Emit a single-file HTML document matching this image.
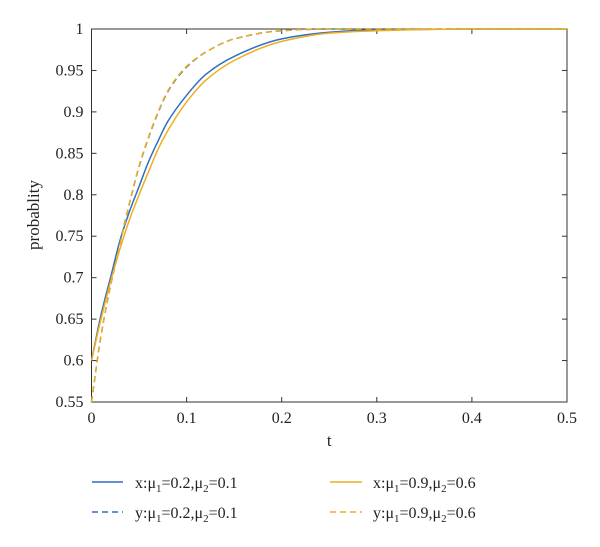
<!DOCTYPE html>
<html><head><meta charset="utf-8"><style>
body{margin:0;background:#fff}
svg text{font-family:"Liberation Serif",serif;fill:#222}
</style></head><body>
<svg width="600" height="542" xmlns="http://www.w3.org/2000/svg">
<g id="axes"></g>
<g id="series"></g>
<g id="legend">
 <g><line x1="92" y1="482" x2="123" y2="482" stroke="#2f6fc4" stroke-width="1.5"/><text x="135" y="488" font-size="16">x:μ<tspan font-size="11" dy="4">1</tspan><tspan dy="-4">=0.2,μ</tspan><tspan font-size="11" dy="4">2</tspan><tspan dy="-4">=0.1</tspan></text></g>
 <g><line x1="92" y1="512" x2="123" y2="512" stroke="#2f6fc4" stroke-width="1.5" stroke-dasharray="6,4"/><text x="135" y="518" font-size="16">y:μ<tspan font-size="11" dy="4">1</tspan><tspan dy="-4">=0.2,μ</tspan><tspan font-size="11" dy="4">2</tspan><tspan dy="-4">=0.1</tspan></text></g>
 <g><line x1="330" y1="482" x2="362" y2="482" stroke="#eeae20" stroke-width="1.5"/><text x="373" y="488" font-size="16">x:μ<tspan font-size="11" dy="4">1</tspan><tspan dy="-4">=0.9,μ</tspan><tspan font-size="11" dy="4">2</tspan><tspan dy="-4">=0.6</tspan></text></g>
 <g><line x1="330" y1="512" x2="362" y2="512" stroke="#eeae20" stroke-width="1.5" stroke-dasharray="6,4"/><text x="373" y="518" font-size="16">y:μ<tspan font-size="11" dy="4">1</tspan><tspan dy="-4">=0.9,μ</tspan><tspan font-size="11" dy="4">2</tspan><tspan dy="-4">=0.6</tspan></text></g>
</g>
</svg>
<script>
const tVals=[0,0.01,0.02,0.03,0.04,0.05,0.06,0.07,0.08,0.1,0.12,0.15,0.2,0.25,0.3,0.4,0.5];
const xBlue=[0.6,0.655,0.70,0.745,0.78,0.81,0.84,0.865,0.888,0.92,0.945,0.967,0.988,0.996,0.999,1,1];
const yBlue=[0.55,0.63,0.69,0.742,0.79,0.834,0.869,0.899,0.924,0.954,0.972,0.988,0.998,1,1,1,1];
const xOrange=[0.6,0.65,0.695,0.735,0.77,0.80,0.828,0.855,0.877,0.912,0.938,0.962,0.985,0.995,0.998,1,1];
const yOrange=[0.55,0.63,0.69,0.74,0.79,0.835,0.87,0.90,0.925,0.955,0.972,0.988,0.998,1,1,1,1];
const xTicks=[0,0.1,0.2,0.3,0.4,0.5];
const yTicks=[0.55,0.6,0.65,0.7,0.75,0.8,0.85,0.9,0.95,1];
const L=91.5,R=567,T=29,B=402;
const sx=v=>L+(v-0)/(0.5)*(R-L);
const sy=v=>B-(v-0.55)/(0.45)*(B-T);
const NS="http://www.w3.org/2000/svg";
function mk(tag,attrs,parent){const e=document.createElementNS(NS,tag);for(const k in attrs)e.setAttribute(k,attrs[k]);parent.appendChild(e);return e;}
const ax=document.getElementById('axes');
const frame=mk('rect',{x:L,y:T,width:R-L,height:B-T,fill:'none',stroke:'#333','stroke-width':1},ax);


xTicks.forEach(v=>{const x=sx(v);
 mk('line',{x1:x,y1:B,x2:x,y2:B-5,stroke:'#333'},ax);mk('line',{x1:x,y1:T,x2:x,y2:T+5,stroke:'#333'},ax);
 const t=mk('text',{x:x,y:B+21,'font-size':16,'text-anchor':'middle'},ax);t.textContent=String(v);
 
 });
yTicks.forEach(v=>{const y=sy(v);
 mk('line',{x1:L,y1:y,x2:L+5,y2:y,stroke:'#333'},ax);mk('line',{x1:R,y1:y,x2:R-5,y2:y,stroke:'#333'},ax);
 const t=mk('text',{x:L-8,y:y+5,'font-size':16,'text-anchor':'end'},ax);t.textContent=String(v);
 
 });
const xl=mk('text',{x:(L+R)/2,y:446,'font-size':17,'text-anchor':'middle'},ax);xl.textContent='t';


const yl=mk('text',{x:0,y:0,'font-size':17,'text-anchor':'middle',transform:'translate(39,215) rotate(-90)'},ax);yl.textContent='probablity';


const sg=document.getElementById('series');
function smooth(pts){
 // monotone cubic (Fritsch-Carlson)
 const n=pts.length,dx=[],m=[],s=[];
 for(let i=0;i<n-1;i++){dx[i]=pts[i+1][0]-pts[i][0];s[i]=(pts[i+1][1]-pts[i][1])/dx[i];}
 m[0]=s[0];m[n-1]=s[n-2];
 for(let i=1;i<n-1;i++){m[i]=(s[i-1]*s[i]<=0)?0:3*(dx[i-1]+dx[i])/((2*dx[i]+dx[i-1])/s[i-1]+(dx[i]+2*dx[i-1])/s[i]);}
 let d='M'+pts[0][0].toFixed(1)+','+pts[0][1].toFixed(1);
 for(let i=0;i<n-1;i++){const h=dx[i]/3;
  d+=' C'+(pts[i][0]+h).toFixed(1)+','+(pts[i][1]+m[i]*h).toFixed(1)+' '+(pts[i+1][0]-h).toFixed(1)+','+(pts[i+1][1]-m[i+1]*h).toFixed(1)+' '+pts[i+1][0].toFixed(1)+','+pts[i+1][1].toFixed(1);}
 return d;}
function line(vals,color,dash,name){
 const pts=vals.map((v,i)=>[sx(tVals[i]),sy(v)]);
 const p=mk('path',{d:smooth(pts),fill:'none',stroke:color,'stroke-width':1.5,'stroke-dasharray':dash||'none'},sg);
 
 }
line(xBlue,'#2f6fc4','','series-x-blue');
line(yBlue,'#2f6fc4','6,4','series-y-blue');
line(xOrange,'#eeae20','','series-x-orange');
line(yOrange,'#eeae20','6,4','series-y-orange');
</script>
</body></html>
